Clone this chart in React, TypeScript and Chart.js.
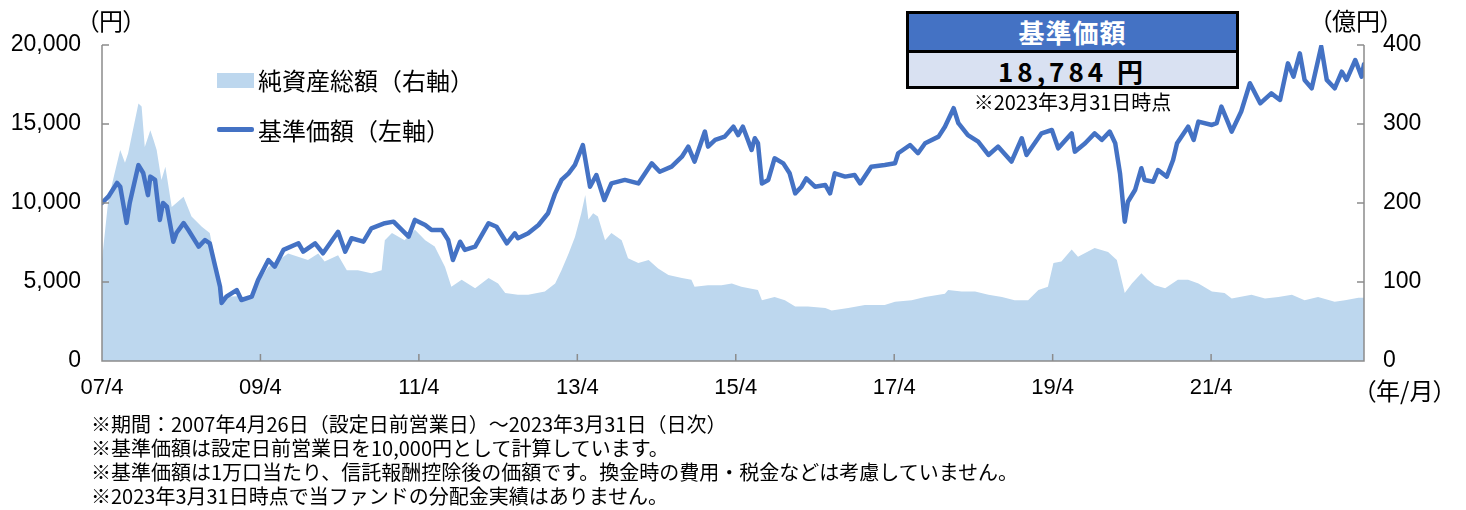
import React, { useEffect, useRef } from "react";
import { Chart, registerables } from "chart.js";

Chart.register(...registerables);

// 基準価額（左軸, 円）
const priceDates = [
  2007.32, 2007.4, 2007.51, 2007.55, 2007.63, 2007.67, 2007.78, 2007.84, 2007.9, 2007.93, 2007.99,
  2008.05, 2008.09, 2008.14, 2008.22, 2008.26, 2008.35, 2008.41, 2008.54, 2008.62, 2008.68, 2008.75,
  2008.81, 2008.83, 2008.89, 2009.02, 2009.08, 2009.21, 2009.29, 2009.42, 2009.5, 2009.61, 2009.8,
  2009.86, 2010.01, 2010.11, 2010.3, 2010.39, 2010.47, 2010.62, 2010.72, 2010.89, 2011.0, 2011.19,
  2011.27, 2011.4, 2011.48, 2011.61, 2011.69, 2011.75, 2011.84, 2011.9, 2012.03, 2012.2, 2012.3,
  2012.43, 2012.53, 2012.57, 2012.7, 2012.83, 2012.95, 2013.04, 2013.12, 2013.21, 2013.29, 2013.39,
  2013.48, 2013.56, 2013.66, 2013.75, 2013.92, 2014.09, 2014.26, 2014.36, 2014.51, 2014.64, 2014.72,
  2014.8, 2014.93, 2014.97, 2015.06, 2015.18, 2015.29, 2015.35, 2015.41, 2015.52, 2015.56, 2015.6,
  2015.65, 2015.73, 2015.81, 2015.92, 2016.0, 2016.07, 2016.15, 2016.21, 2016.32, 2016.45, 2016.51,
  2016.57, 2016.7, 2016.82, 2016.89, 2017.03, 2017.2, 2017.33, 2017.37, 2017.52, 2017.62, 2017.71,
  2017.88, 2017.96, 2018.07, 2018.13, 2018.25, 2018.38, 2018.51, 2018.63, 2018.8, 2018.93, 2018.99,
  2019.18, 2019.31, 2019.39, 2019.56, 2019.6, 2019.73, 2019.85, 2019.94, 2020.04, 2020.11, 2020.17,
  2020.23, 2020.27, 2020.36, 2020.44, 2020.48, 2020.59, 2020.65, 2020.76, 2020.84, 2020.89, 2021.03,
  2021.1, 2021.16, 2021.33, 2021.39, 2021.45, 2021.52, 2021.58, 2021.7, 2021.81, 2021.94, 2022.08,
  2022.19, 2022.29, 2022.36, 2022.44, 2022.5, 2022.59, 2022.71, 2022.78, 2022.88, 2022.97, 2023.03,
  2023.14, 2023.22, 2023.25,
];
const priceValues = [
  10000, 10400, 11270, 11030, 8740, 10000, 12400, 11900, 10500, 11670, 11460,
  8930, 10000, 9770, 7550, 8100, 8730, 8290, 7240, 7660, 7450, 5970,
  4700, 3670, 4070, 4490, 3860, 4070, 5130, 6390, 5970, 7030, 7450,
  6920, 7450, 6820, 8180, 6920, 7770, 7550, 8400, 8720, 8820, 7870,
  8930, 8610, 8290, 8290, 7660, 6390, 7550, 7030, 7240, 8720, 8500,
  7450, 8080, 7770, 8080, 8610, 9350, 10610, 11460, 11880, 12410, 13670,
  11030, 11770, 10190, 11240, 11460, 11240, 12510, 11980, 12300, 12930, 13570,
  12620, 14520, 13570, 13990, 14200, 14830, 14300, 14830, 13360, 14100, 13780,
  11240, 11460, 12830, 12510, 11880, 10610, 11030, 11560, 11030, 11140, 10610,
  11880, 11670, 11770, 11240, 12300, 12410, 12510, 13150, 13670, 13150, 13780,
  14200, 14830, 16000, 15050, 14300, 13880, 13040, 13570, 12620, 14100, 13040,
  14410, 14620, 13460, 14410, 13250, 13780, 14410, 13990, 14520, 13780, 11880,
  8820, 10080, 10820, 12200, 11460, 11350, 12090, 11670, 12720, 13780, 14830,
  13990, 15150, 14940, 15050, 16100, 15260, 14520, 15790, 17580, 16310, 16940,
  16520, 18840, 18000, 19470, 17790, 17260, 19900, 17790, 17260, 18310, 17790,
  19050, 18000, 18784,
];

// 純資産総額（右軸, 億円）
const navDates = [
  2007.32, 2007.4, 2007.48, 2007.55, 2007.61, 2007.65, 2007.71, 2007.78, 2007.82, 2007.86, 2007.93,
  2007.97, 2008.01, 2008.07, 2008.12, 2008.2, 2008.35, 2008.45, 2008.58, 2008.68, 2008.75, 2008.83,
  2009.02, 2009.21, 2009.29, 2009.42, 2009.67, 2009.92, 2010.05, 2010.13, 2010.3, 2010.41, 2010.55,
  2010.72, 2010.85, 2010.89, 2010.98, 2011.14, 2011.27, 2011.4, 2011.52, 2011.65, 2011.73, 2011.86,
  2012.03, 2012.2, 2012.32, 2012.41, 2012.57, 2012.7, 2012.91, 2013.04, 2013.12, 2013.21, 2013.29,
  2013.37, 2013.42, 2013.46, 2013.52, 2013.58, 2013.67, 2013.75, 2013.88, 2013.96, 2014.09, 2014.22,
  2014.34, 2014.47, 2014.64, 2014.76, 2014.8, 2014.97, 2015.14, 2015.27, 2015.39, 2015.6, 2015.65,
  2015.81, 2015.94, 2016.07, 2016.23, 2016.45, 2016.53, 2016.74, 2016.95, 2017.2, 2017.33, 2017.54,
  2017.71, 2017.96, 2018.0, 2018.17, 2018.34, 2018.51, 2018.68, 2018.84, 2019.01, 2019.14, 2019.26,
  2019.33, 2019.43, 2019.56, 2019.64, 2019.85, 2020.02, 2020.13, 2020.19, 2020.23, 2020.32, 2020.44,
  2020.52, 2020.61, 2020.74, 2020.9, 2021.03, 2021.16, 2021.33, 2021.49, 2021.58, 2021.83, 2022.0,
  2022.17, 2022.34, 2022.5, 2022.67, 2022.88, 2023.01, 2023.18, 2023.25,
];
const navValues = [
  128, 204, 238, 267, 251, 263, 292, 326, 322, 271, 292,
  280, 267, 229, 246, 195, 208, 183, 170, 162, 128, 81,
  82, 80, 100, 119, 136, 128, 136, 126, 134, 115, 115,
  111, 115, 153, 162, 153, 166, 153, 145, 119, 94, 103,
  92, 105, 98, 86, 84, 84, 88, 98, 115, 136, 157,
  187, 210, 179, 187, 183, 153, 162, 153, 130, 124, 128,
  117, 109, 105, 103, 94, 96, 96, 98, 94, 90, 77,
  81, 77, 69, 69, 67, 64, 67, 71, 71, 75, 77,
  81, 85, 90, 88, 88, 84, 81, 77, 77, 90, 94,
  124, 126, 141, 132, 143, 138, 128, 103, 86, 98, 111,
  103, 96, 92, 103, 103, 98, 88, 86, 79, 84, 79,
  81, 84, 77, 81, 75, 77, 80, 80,
];

const xMin = 2007.32;
const xMax = 2023.25;
const xTickPositions = [2007.32, 2009.32, 2011.32, 2013.32, 2015.32, 2017.32, 2019.32, 2021.32];
const xTickLabels = ["07/4", "09/4", "11/4", "13/4", "15/4", "17/4", "19/4", "21/4"];
const leftTicks = [0, 5000, 10000, 15000, 20000];
const rightTicks = [0, 100, 200, 300, 400];

const footnotes = [
  "※期間：2007年4月26日（設定日前営業日）～2023年3月31日（日次）",
  "※基準価額は設定日前営業日を10,000円として計算しています。",
  "※基準価額は1万口当たり、信託報酬控除後の価額です。換金時の費用・税金などは考慮していません。",
  "※2023年3月31日時点で当ファンドの分配金実績はありません。",
];

const LINE_COLOR = "#4472C4";
const FILL_COLOR = "#BDD7EE";
const AXIS_COLOR = "#8C8C8C";
const NUM_FONT = "'Liberation Sans', Arial, sans-serif";
const JP_FONT = "'Noto Sans CJK JP', 'Noto Sans', sans-serif";

const axisPlugin = {
  id: "axisLines",
  afterDatasetsDraw(chart: any) {
    const { ctx, chartArea, scales } = chart;
    const { left, right, top, bottom } = chartArea;
    ctx.save();
    ctx.strokeStyle = AXIS_COLOR;
    ctx.lineWidth = 1.5;
    ctx.beginPath();
    ctx.moveTo(left, top);
    ctx.lineTo(left, bottom);
    ctx.lineTo(right, bottom);
    ctx.lineTo(right, top);
    for (const v of leftTicks) {
      const y = scales.y.getPixelForValue(v);
      ctx.moveTo(left, y);
      ctx.lineTo(left + 7, y);
    }
    for (const v of rightTicks) {
      const y = scales.y2.getPixelForValue(v);
      ctx.moveTo(right, y);
      ctx.lineTo(right - 7, y);
    }
    for (const v of xTickPositions) {
      const x = scales.x.getPixelForValue(v);
      ctx.moveTo(x, bottom);
      ctx.lineTo(x, bottom - 7);
    }
    ctx.stroke();
    ctx.restore();
  },
};

export default function App() {
  const canvasRef = useRef<HTMLCanvasElement | null>(null);

  useEffect(() => {
    const canvas = canvasRef.current;
    if (!canvas) return;
    const chart = new Chart(canvas, {
      type: "line",
      data: {
        datasets: [
          {
            label: "基準価額（左軸）",
            data: priceDates.map((d, i) => ({ x: d, y: priceValues[i] })),
            yAxisID: "y",
            borderColor: LINE_COLOR,
            borderWidth: 4.5,
            pointRadius: 0,
            fill: false,
            tension: 0,
            order: 0,
            borderJoinStyle: "round",
            borderCapStyle: "round",
          },
          {
            label: "純資産総額（右軸）",
            data: navDates.map((d, i) => ({ x: d, y: navValues[i] })),
            yAxisID: "y2",
            borderWidth: 0,
            borderColor: FILL_COLOR,
            backgroundColor: FILL_COLOR,
            pointRadius: 0,
            fill: "origin",
            tension: 0,
            order: 1,
          },
        ],
      },
      options: {
        responsive: false,
        animation: false,
        devicePixelRatio: 1,
        layout: { padding: { top: 45, left: 0, right: 0, bottom: 0 } },
        plugins: {
          legend: { display: false },
          tooltip: { enabled: false },
        },
        scales: {
          x: {
            type: "linear",
            min: xMin,
            max: xMax,
            afterBuildTicks: (s: any) => {
              s.ticks = xTickPositions.map((v) => ({ value: v }));
            },
            afterFit: (s: any) => {
              s.height = 149;
            },
            ticks: {
              autoSkip: false,
              maxRotation: 0,
              padding: 14,
              color: "#000",
              font: { family: NUM_FONT, size: 22 },
              callback: (v: any) => {
                const i = xTickPositions.findIndex((p) => Math.abs(p - Number(v)) < 1e-6);
                return i >= 0 ? xTickLabels[i] : "";
              },
            },
            grid: { display: false, drawTicks: false },
            border: { display: false },
          },
          y: {
            type: "linear",
            position: "left",
            min: 0,
            max: 20000,
            afterBuildTicks: (s: any) => {
              s.ticks = leftTicks.map((v) => ({ value: v }));
            },
            afterFit: (s: any) => {
              s.width = 102;
            },
            ticks: {
              padding: 21,
              color: "#000",
              font: { family: NUM_FONT, size: 23 },
              callback: (v: any) => Number(v).toLocaleString("en-US"),
            },
            grid: { display: false, drawTicks: false },
            border: { display: false },
          },
          y2: {
            type: "linear",
            position: "right",
            min: 0,
            max: 400,
            afterBuildTicks: (s: any) => {
              s.ticks = rightTicks.map((v) => ({ value: v }));
            },
            afterFit: (s: any) => {
              s.width = 102;
            },
            ticks: {
              padding: 19,
              color: "#000",
              font: { family: NUM_FONT, size: 23 },
              callback: (v: any) => String(v),
            },
            grid: { display: false, drawTicks: false },
            border: { display: false },
          },
        },
      },
      plugins: [axisPlugin],
    });
    return () => chart.destroy();
  }, []);

  const abs = (s: React.CSSProperties): React.CSSProperties => ({
    position: "absolute",
    whiteSpace: "nowrap",
    ...s,
  });
  const palt: React.CSSProperties = { fontFeatureSettings: '"palt" 1' };

  return (
    <div
      style={{
        position: "absolute",
        left: 0,
        top: 0,
        width: 1466,
        height: 510,
        background: "#fff",
        overflow: "hidden",
        fontFamily: JP_FONT,
        color: "#000",
      }}
    >
      <canvas ref={canvasRef} width={1466} height={510} style={{ display: "block", width: 1466, height: 510 }} />

      {/* axis unit labels */}
      <div style={abs({ left: 87, top: 7, fontSize: 24, lineHeight: "26px", ...palt })}>（円）</div>
      <div style={abs({ left: 1320, top: 7, fontSize: 24, lineHeight: "26px", ...palt })}>（億円）</div>
      <div style={abs({ left: 1364, top: 377, fontSize: 24, lineHeight: "26px", ...palt })}>（年/月）</div>

      {/* legend */}
      <div style={abs({ left: 217, top: 73, width: 37, height: 15, background: FILL_COLOR })} />
      <div style={abs({ left: 258, top: 67, fontSize: 24, lineHeight: "26px" })}>純資産総額（右軸）</div>
      <div style={abs({ left: 217, top: 127, width: 37, height: 4.5, background: LINE_COLOR, borderRadius: 2 })} />
      <div style={abs({ left: 258, top: 117, fontSize: 24, lineHeight: "26px" })}>基準価額（左軸）</div>

      {/* NAV box */}
      <div
        style={abs({
          left: 906,
          top: 11,
          width: 333,
          height: 78,
          boxSizing: "border-box",
          border: "3px solid #000",
          background: "#D9E1F2",
        })}
      >
        <div
          style={{
            height: 36,
            background: LINE_COLOR,
            borderBottom: "3px solid #000",
            color: "#fff",
            fontWeight: 700,
            fontSize: 26,
            lineHeight: "36px",
            textAlign: "center",
            letterSpacing: 1,
          }}
        >
          基準価額
        </div>
        <div
          style={{
            fontWeight: 700,
            fontSize: 26,
            lineHeight: "36px",
            textAlign: "center",
            letterSpacing: 4,
          }}
        >
          18,784 円
        </div>
      </div>
      <div style={abs({ left: 906, width: 333, top: 91, fontSize: 20, lineHeight: "22px", textAlign: "center" })}>
        ※2023年3月31日時点
      </div>

      {/* footnotes */}
      {footnotes.map((t, i) => (
        <div key={i} style={abs({ left: 91, top: 412 + i * 24, fontSize: 20, lineHeight: "24px" })}>
          {t}
        </div>
      ))}
    </div>
  );
}
